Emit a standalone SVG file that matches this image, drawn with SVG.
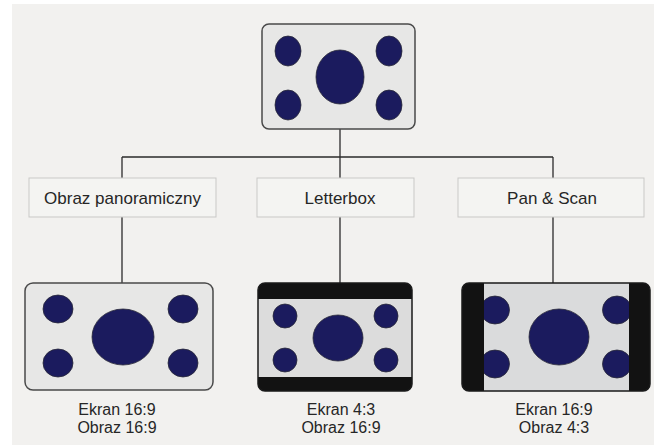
<svg xmlns="http://www.w3.org/2000/svg" width="654" height="445" viewBox="0 0 654 445">
<style>
.screen{fill:#e7e7e6;stroke:#4a4a4a;stroke-width:1.5}
.dot{fill:#1b1b5e;stroke:#2a2a3a;stroke-width:0.8}
.bar{fill:#121212}
.label{fill:#f4f4f2;stroke:#c9c9c7;stroke-width:1}
.lt{font-family:"Liberation Sans",Arial,sans-serif;font-size:17px;fill:#262626;text-anchor:middle}
.cap{font-family:"Liberation Sans",Arial,sans-serif;font-size:16px;fill:#262626;text-anchor:middle}
.conn{stroke:#2b2b2b;stroke-width:1.3;fill:none}
</style>
<defs>
<clipPath id="cLB"><rect x="258" y="283" width="154" height="108" rx="7"/></clipPath>
<clipPath id="cPS"><rect x="462" y="283" width="188" height="108" rx="7"/></clipPath>
</defs>
<rect width="654" height="445" fill="#ffffff"/>
<rect x="12" y="4" width="642" height="441" fill="#f2f1ef"/>
<g id="connectors">
<path class="conn" d="M340 129V157M122 157H553M122 157V178M340 157V178M553 157V178M122 217V283M340 217V283M553 217V283"/>
</g>
<g id="source">
<rect class="screen" x="262" y="24" width="153" height="105" rx="7"/>
<ellipse class="dot" cx="288" cy="51" rx="13" ry="15"/>
<ellipse class="dot" cx="288" cy="105" rx="13" ry="15"/>
<ellipse class="dot" cx="389" cy="51" rx="13" ry="15"/>
<ellipse class="dot" cx="389" cy="105" rx="13" ry="15"/>
<ellipse class="dot" cx="340" cy="77" rx="24" ry="27"/>
</g>
<g id="label-panoramic">
<rect class="label" x="29" y="178" width="187" height="39"/>
<text class="lt" x="122.5" y="204">Obraz panoramiczny</text>
</g>
<g id="label-letterbox">
<rect class="label" x="257" y="178" width="157" height="39"/>
<text class="lt" x="340" y="204">Letterbox</text>
</g>
<g id="label-panscan">
<rect class="label" x="458" y="178" width="186" height="39"/>
<text class="lt" x="552" y="204">Pan &amp; Scan</text>
</g>
<g id="screen-panoramic">
<rect class="screen" x="25" y="283" width="188" height="107" rx="8"/>
<ellipse class="dot" cx="58" cy="309" rx="15" ry="14"/>
<ellipse class="dot" cx="58" cy="363" rx="15" ry="14"/>
<ellipse class="dot" cx="183" cy="309" rx="15" ry="14"/>
<ellipse class="dot" cx="183" cy="363" rx="15" ry="14"/>
<ellipse class="dot" cx="123" cy="337" rx="31" ry="28"/>
<text class="cap" x="117" y="415">Ekran 16:9</text>
<text class="cap" x="117" y="433">Obraz 16:9</text>
</g>
<g id="screen-letterbox">
<rect x="258" y="283" width="154" height="108" rx="7" fill="#dcdcdc"/>
<g clip-path="url(#cLB)">
<rect class="bar" x="258" y="283" width="154" height="16"/>
<rect class="bar" x="258" y="377" width="154" height="14"/>
</g>
<rect x="258" y="283" width="154" height="108" rx="7" fill="none" stroke="#1a1a1a" stroke-width="1.5"/>
<ellipse class="dot" cx="285" cy="316" rx="12" ry="12"/>
<ellipse class="dot" cx="285" cy="360" rx="12" ry="12"/>
<ellipse class="dot" cx="386" cy="316" rx="12" ry="12"/>
<ellipse class="dot" cx="386" cy="360" rx="12" ry="12"/>
<ellipse class="dot" cx="338" cy="338" rx="25" ry="23"/>
<text class="cap" x="341" y="415">Ekran 4:3</text>
<text class="cap" x="341" y="433">Obraz 16:9</text>
</g>
<g id="screen-panscan">
<rect x="462" y="283" width="188" height="108" rx="7" fill="#dadbdc"/>
<ellipse class="dot" cx="495" cy="310" rx="14.5" ry="14"/>
<ellipse class="dot" cx="495" cy="364" rx="14.5" ry="14"/>
<ellipse class="dot" cx="617" cy="310" rx="14.5" ry="14"/>
<ellipse class="dot" cx="617" cy="364" rx="14.5" ry="14"/>
<ellipse class="dot" cx="559" cy="337" rx="30" ry="28"/>
<g clip-path="url(#cPS)">
<rect class="bar" x="462" y="283" width="22" height="108"/>
<rect class="bar" x="629" y="283" width="21" height="108"/>
</g>
<rect x="462" y="283" width="188" height="108" rx="7" fill="none" stroke="#1a1a1a" stroke-width="1.5"/>
<text class="cap" x="554" y="415">Ekran 16:9</text>
<text class="cap" x="554" y="433">Obraz 4:3</text>
</g>
</svg>
